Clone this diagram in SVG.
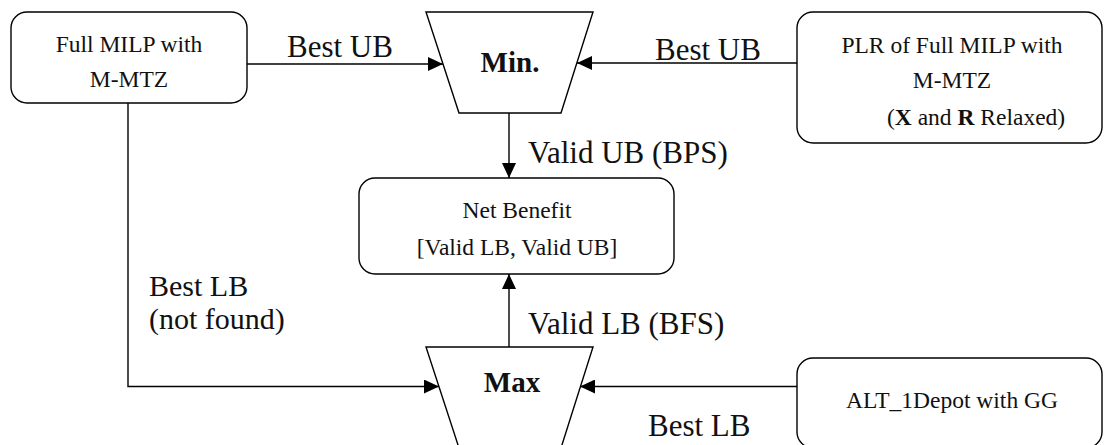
<svg xmlns="http://www.w3.org/2000/svg" width="1104" height="445" viewBox="0 0 1104 445">
  <defs>
    <marker id="arrow" markerWidth="15" markerHeight="14" refX="15" refY="7" orient="auto" markerUnits="userSpaceOnUse">
      <path d="M0,0 L15,7 L0,14 z" fill="#000"/>
    </marker>
    <style>
      .box { fill: #fff; stroke: #000; stroke-width: 1.4; }
      .op { fill: #fff; stroke: #000; stroke-width: 1.4; }
      .edge { fill: none; stroke: #000; stroke-width: 1.4; marker-end: url(#arrow); }
      .node-text { font-family: 'Liberation Serif', serif; font-size: 23.5px; text-anchor: middle; fill: #111; }
      .op-text { font-family: 'Liberation Serif', serif; font-size: 29px; font-weight: bold; text-anchor: middle; fill: #111; }
      .label { font-family: 'Liberation Serif', serif; font-size: 31px; fill: #111; }
      .label-sm { font-family: 'Liberation Serif', serif; font-size: 30px; fill: #111; }
    </style>
  </defs>
  <rect width="1104" height="445" fill="#fff"/>

  <!-- connectors -->
  <g id="connectors">
    <path class="edge" d="M247,64 L443,64"/>
    <path class="edge" d="M797,63 L577,63"/>
    <path class="edge" d="M509,113 L509,178"/>
    <path class="edge" d="M509,347 L509,274"/>
    <path class="edge" d="M128,103 L128,386.5 L439,386.5"/>
    <path class="edge" d="M797,386.5 L580,386.5"/>
    <text class="label" x="287" y="57">Best UB</text>
    <text class="label" x="655" y="60">Best UB</text>
    <text class="label" x="528" y="163">Valid UB (BPS)</text>
    <text class="label" x="528" y="334">Valid LB (BFS)</text>
    <text class="label-sm" x="149" y="296">Best LB</text>
    <text class="label-sm" x="149" y="329">(not found)</text>
    <text class="label" x="648" y="436">Best LB</text>
  </g>

  <!-- full model node -->
  <g id="full-milp">
    <rect class="box" x="11" y="12" width="236" height="91" rx="16" ry="16"/>
    <text class="node-text" x="129" y="52">Full MILP with</text>
    <text class="node-text" x="129" y="87">M-MTZ</text>
  </g>

  <!-- relaxed model node -->
  <g id="plr">
    <rect class="box" x="797" y="12" width="305" height="131" rx="16" ry="16"/>
    <text class="node-text" x="952" y="53">PLR of Full MILP with</text>
    <text class="node-text" x="952" y="88">M-MTZ</text>
    <text class="node-text" x="887" y="125" style="text-anchor:start">(<tspan font-weight="bold">X</tspan> and <tspan font-weight="bold">R</tspan> Relaxed)</text>
  </g>

  <!-- min operator -->
  <g id="min">
    <polygon class="op" points="426,12 593,12 561,113 459,113"/>
    <text class="op-text" x="510" y="72">Min.</text>
  </g>

  <!-- result node -->
  <g id="net-benefit">
    <rect class="box" x="359" y="178" width="315" height="96" rx="16" ry="16"/>
    <text class="node-text" x="517" y="218">Net Benefit</text>
    <text class="node-text" x="517" y="255">[Valid LB, Valid UB]</text>
  </g>

  <!-- max operator -->
  <g id="max">
    <polygon class="op" points="426,347 593,347 561,448 459,448"/>
    <text class="op-text" x="512" y="392">Max</text>
  </g>

  <!-- heuristic node -->
  <g id="alt-1depot">
    <rect class="box" x="797" y="358" width="305" height="90" rx="16" ry="16"/>
    <text class="node-text" x="952" y="408">ALT_1Depot with GG</text>
  </g>
</svg>
